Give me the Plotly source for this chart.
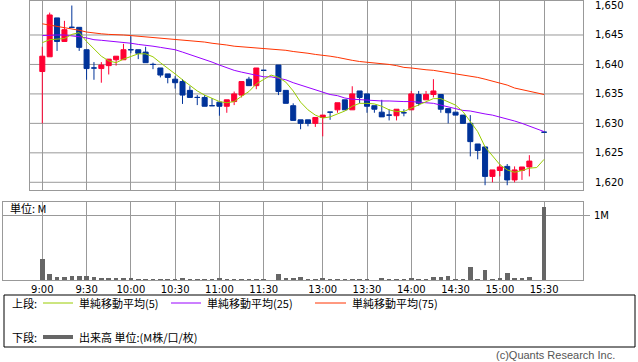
import plotly.graph_objects as go

# ---------------- data (5-minute slots; 31 = lunch gap, 67 = pre-close gap) ----------------
slots = list(range(69))
tick_slots = [0, 6, 12, 18, 24, 30, 38, 44, 50, 56, 62, 68]
tick_labels = ["9:00", "9:30", "10:00", "10:30", "11:00", "11:30",
               "13:00", "13:30", "14:00", "14:30", "15:00", "15:30"]
price_ticks = [1620, 1625, 1630, 1635, 1640, 1645, 1650]

opens = [1638.8, 1641.3, 1647.9, 1643.9, 1646.3, 1646.3, 1642.5, 1639.4, 1639.3, 1639.8,
         1640.8, 1640.8, 1642.5, 1642.5, 1642.1, 1640.0, 1639.4, 1638.4, 1637.5, 1637.1,
         1635.6, 1634.4, 1634.4, 1633.0, 1633.6, 1632.9, 1633.7, 1634.8, 1637.5, 1636.4,
         1639.0, None, 1639.9, 1635.6, 1633.0, 1630.6, 1630.6, 1630.0, 1631.0, 1631.9,
         1632.3, 1634.0, 1632.3, 1635.5, 1635.0, 1633.0, 1631.9, 1631.4, 1631.3, 1631.8,
         1632.3, 1634.9, 1634.0, 1634.9, 1634.9, 1632.5, 1631.9, 1631.4, 1630.0, 1626.5,
         1626.0, 1621.0, 1622.0, 1622.7, 1620.4, 1622.0, 1622.6, None, 1628.5]
highs = [1643.0, 1648.8, 1647.9, 1647.4, 1650.0, 1646.3, 1642.5, 1640.4, 1640.4, 1640.9,
         1641.4, 1643.5, 1644.8, 1642.5, 1643.0, 1640.3, 1639.4, 1638.4, 1638.0, 1637.5,
         1636.3, 1634.8, 1634.8, 1634.3, 1633.6, 1634.0, 1635.4, 1637.1, 1637.9, 1639.4,
         1639.0, None, 1639.9, 1635.6, 1633.4, 1630.6, 1630.6, 1631.0, 1631.4, 1631.9,
         1633.5, 1634.0, 1636.3, 1635.5, 1635.0, 1633.0, 1634.0, 1632.4, 1632.4, 1632.4,
         1635.5, 1635.5, 1635.5, 1637.5, 1634.9, 1632.5, 1631.9, 1631.4, 1631.4, 1626.5,
         1626.0, 1622.1, 1623.1, 1623.1, 1622.7, 1622.6, 1624.6, None, 1628.5]
lows = [1630.0, 1641.3, 1642.3, 1643.9, 1646.3, 1642.3, 1637.4, 1637.4, 1636.9, 1638.3,
        1639.8, 1640.8, 1641.9, 1640.9, 1640.3, 1639.2, 1637.8, 1636.8, 1635.9, 1633.3,
        1634.4, 1633.1, 1632.9, 1633.0, 1631.3, 1631.8, 1633.1, 1634.4, 1636.4, 1635.8,
        1638.9, None, 1634.8, 1633.4, 1630.5, 1629.0, 1629.5, 1629.4, 1627.8, 1630.6,
        1631.8, 1632.3, 1632.3, 1633.4, 1631.8, 1631.8, 1631.1, 1630.5, 1630.5, 1631.2,
        1632.3, 1633.0, 1634.0, 1634.4, 1631.8, 1630.0, 1631.4, 1630.0, 1624.4, 1623.9,
        1619.5, 1620.0, 1621.0, 1619.5, 1620.0, 1620.4, 1621.0, None, 1628.5]
closes = [1641.4, 1648.4, 1643.9, 1645.9, 1646.3, 1642.9, 1639.3, 1639.4, 1639.9, 1640.9,
          1641.4, 1642.5, 1642.5, 1641.9, 1640.3, 1640.0, 1638.2, 1637.8, 1636.9, 1634.8,
          1634.4, 1634.4, 1632.9, 1633.0, 1632.9, 1634.0, 1635.0, 1637.1, 1636.4, 1639.4,
          1639.0, None, 1635.4, 1633.4, 1630.5, 1630.0, 1630.0, 1631.0, 1631.4, 1631.9,
          1633.5, 1632.3, 1635.0, 1634.4, 1632.9, 1632.4, 1631.1, 1631.4, 1632.4, 1631.8,
          1635.0, 1633.4, 1634.9, 1635.5, 1632.4, 1631.8, 1631.4, 1630.0, 1626.9, 1625.4,
          1621.0, 1622.1, 1622.6, 1620.4, 1622.1, 1622.6, 1623.6, None, 1628.5]

ma5 = [1643.7, 1644.2, 1644.3, 1644.4, 1645.1, 1645.4, 1643.9, 1642.6, 1641.4, 1640.6,
       1640.3, 1640.9, 1641.4, 1641.8, 1641.8, 1641.3, 1640.3, 1639.4, 1638.4, 1637.4,
       1636.4, 1635.5, 1634.8, 1634.2, 1633.7, 1633.5, 1633.7, 1634.6, 1635.4, 1636.7,
       1637.5, 1638.2, 1637.8, 1637.0, 1635.5, 1633.6, 1632.3, 1631.4, 1630.9, 1631.1,
       1631.6, 1632.1, 1632.9, 1633.4, 1633.4, 1633.3, 1632.9, 1632.3, 1632.0, 1632.0,
       1632.6, 1633.1, 1633.7, 1634.2, 1634.2, 1633.7, 1633.1, 1632.0, 1630.3, 1628.6,
       1626.0, 1624.4, 1623.0, 1622.1, 1621.7, 1622.0, 1622.4, 1622.5, 1623.9]
ma25 = [1644.9, 1645.0, 1645.0, 1645.0, 1644.9, 1644.7, 1644.5, 1644.2, 1644.1, 1644.0,
        1643.9, 1643.8, 1643.6, 1643.4, 1643.3, 1643.1, 1642.9, 1642.7, 1642.5, 1642.1,
        1641.7, 1641.2, 1640.9, 1640.4, 1639.9, 1639.4, 1639.0, 1638.7, 1638.4, 1638.1,
        1637.9, 1637.9, 1637.7, 1637.4, 1636.9, 1636.5, 1636.1, 1635.7, 1635.2, 1634.9,
        1634.7, 1634.3, 1634.1, 1634.0, 1633.9, 1633.8, 1633.8, 1633.8, 1633.7, 1633.7,
        1633.7, 1633.6, 1633.6, 1633.4, 1633.1, 1632.8, 1632.5, 1632.2, 1632.1, 1631.8,
        1631.6, 1631.4, 1631.1, 1630.8, 1630.4, 1630.0, 1629.5, 1629.0, 1628.6]
ma75 = [1646.9, 1646.7, 1646.5, 1646.3, 1646.1, 1645.8, 1645.5, 1645.3, 1645.2, 1645.1,
        1645.1, 1645.0, 1644.9, 1644.8, 1644.7, 1644.5, 1644.4, 1644.3, 1644.3, 1644.2,
        1644.0, 1643.9, 1643.8, 1643.6, 1643.5, 1643.3, 1643.1, 1643.0, 1643.0, 1642.9,
        1642.8, 1642.6, 1642.5, 1642.4, 1642.2, 1642.1, 1641.9, 1641.7, 1641.6, 1641.4,
        1641.2, 1640.9, 1640.7, 1640.5, 1640.4, 1640.3, 1640.1, 1640.0, 1639.8, 1639.5,
        1639.4, 1639.2, 1639.1, 1639.0, 1638.8, 1638.7, 1638.4, 1638.2, 1638.0, 1637.8,
        1637.5, 1637.2, 1636.8, 1636.5, 1636.0, 1635.7, 1635.4, 1635.1, 1634.9]

volume_m = [0.326, 0.093, 0.052, 0.052, 0.062, 0.062, 0.062, 0.047, 0.036, 0.036,
            0.031, 0.031, 0.031, 0.021, 0.021, 0.021, 0.021, 0.016, 0.016, 0.031,
            0.021, 0.016, 0.005, 0.016, 0.031, 0.005, 0.016, 0.005, 0.016, 0.016,
            0.016, None, 0.093, 0.036, 0.036, 0.052, 0.021, 0.021, 0.031, 0.016,
            0.005, 0.016, 0.016, 0.016, 0.016, 0.003, 0.031, 0.016, 0.016, 0.005,
            0.031, 0.016, 0.016, 0.052, 0.052, 0.067, 0.016, 0.016, 0.207, 0.016,
            0.155, 0.016, 0.031, 0.114, 0.031, 0.031, 0.052, None, 1.135]

# ---------------- styling ----------------
W, H = 638, 362
RED = "#ff0033"
BLUE = "#003399"
GRID = "#999999"
C5, C25, C75 = "#99cc00", "#9900ff", "#ff3300"
VOLC = "#666666"
TICKFONT = dict(family="DejaVu Sans", size=10, color="#000000")
JPFONT = dict(family="Noto Sans CJK JP", size=11, color="#000000")


def px(x):
    return x / W


def py(y):
    return 1 - y / H


def pick(arr, mask):
    return [v if m else None for v, m in zip(arr, mask)]


up = [(o is not None and c is not None and c > o) for o, c in zip(opens, closes)]
down = [(o is not None and c is not None and not (c > o)) for o, c in zip(opens, closes)]

fig = go.Figure()

for mask, col in ((up, RED), (down, BLUE)):
    fig.add_trace(go.Candlestick(
        x=slots, open=pick(opens, mask), high=pick(highs, mask),
        low=pick(lows, mask), close=pick(closes, mask),
        increasing=dict(line=dict(color=col, width=1), fillcolor=col),
        decreasing=dict(line=dict(color=col, width=1), fillcolor=col),
        xaxis="x", yaxis="y", showlegend=False, hoverinfo="skip"))

for arr, col in ((ma75, C75), (ma25, C25), (ma5, C5)):
    fig.add_trace(go.Scatter(x=slots, y=arr, mode="lines",
                             line=dict(color=col, width=1),
                             xaxis="x", yaxis="y", showlegend=False, hoverinfo="skip"))

fig.add_trace(go.Bar(x=slots, y=volume_m, width=0.62, marker=dict(color=VOLC, line=dict(width=0)),
                     xaxis="x2", yaxis="y2", showlegend=False, hoverinfo="skip"))

shapes = []
for v in price_ticks:
    if v < 1650:
        shapes.append(dict(type="line", xref="x domain", yref="y", x0=0, x1=1, y0=v, y1=v,
                           line=dict(color=GRID, width=1), layer="below"))

# legend box
shapes.append(dict(type="rect", xref="paper", yref="paper", x0=px(4), x1=px(635),
                   y0=py(347), y1=py(295), line=dict(color="#000000", width=1)))
leg_lines = [(43, 73, 303, C5, 1), (171, 201, 303, C25, 1), (315, 346, 303, C75, 1),
             (43, 73, 337, VOLC, 4)]
for x0, x1, yy, col, w in leg_lines:
    shapes.append(dict(type="line", xref="paper", yref="paper", x0=px(x0), x1=px(x1),
                       y0=py(yy), y1=py(yy), line=dict(color=col, width=w)))

annotations = []
texts = [(10, 303, "上段:"), (77, 303, "単純移動平均(5)"), (205, 303, "単純移動平均(25)"),
         (350, 303, "単純移動平均(75)"), (10, 337, "下段:"), (77, 337, "出来高 単位:(M株/口/枚)"),
         (8, 208, "単位: M")]
for x, y, t in texts:
    annotations.append(dict(x=px(x), y=py(y), xref="paper", yref="paper", text=t,
                            showarrow=False, xanchor="left", yanchor="middle", font=JPFONT))
annotations.append(dict(x=px(617), y=py(355), xref="paper", yref="paper",
                        text="(c)Quants Research Inc.", showarrow=False,
                        xanchor="right", yanchor="middle",
                        font=dict(family="Liberation Sans", size=11, color="#555555")))

fig.update_layout(
    width=W, height=H, margin=dict(l=0, r=0, t=0, b=0),
    paper_bgcolor="#ffffff", plot_bgcolor="#ffffff",
    boxgap=0.175, boxgroupgap=0.175, bargap=0,
    showlegend=False,
    xaxis=dict(domain=[px(30), px(583)], range=[-1.667, 73.27], tickvals=tick_slots,
               showticklabels=False, showgrid=True, gridcolor=GRID, gridwidth=1,
               showline=True, mirror=True, linecolor=GRID, linewidth=1, zeroline=False,
               ticks="", rangeslider=dict(visible=False), anchor="y", fixedrange=True),
    yaxis=dict(domain=[py(190.3), py(0.7)], range=[1618.64, 1650.82], side="right",
               tickvals=price_ticks, ticktext=[f"{v:,}" for v in price_ticks],
               showgrid=False, showline=True, mirror=True, linecolor=GRID, linewidth=1,
               zeroline=False, ticks="", ticklabelstandoff=9, tickfont=TICKFONT, anchor="x"),
    xaxis2=dict(domain=[px(3), px(583)], range=[-5.33, 73.27], tickvals=tick_slots,
                ticktext=tick_labels, showgrid=True, gridcolor=GRID, gridwidth=1,
                showline=True, mirror=True, linecolor=GRID, linewidth=1, zeroline=False,
                ticks="", tickfont=TICKFONT, anchor="y2", ticklabelstandoff=0),
    yaxis2=dict(domain=[py(280), py(201.7)], range=[0, 1.218], side="right",
                tickvals=[1], ticktext=["1M"], showgrid=True, gridcolor=GRID, gridwidth=1,
                ticks="outside", ticklen=6, tickcolor=GRID, showline=True, mirror=True,
                linecolor=GRID, linewidth=1, zeroline=False, tickfont=TICKFONT, anchor="x2",
                ticklabelstandoff=2),
    shapes=shapes, annotations=annotations,
)

fig.write_html("out.html", config={"displayModeBar": False},
               post_script="document.body.style.margin='0';document.body.style.overflow='hidden';")
